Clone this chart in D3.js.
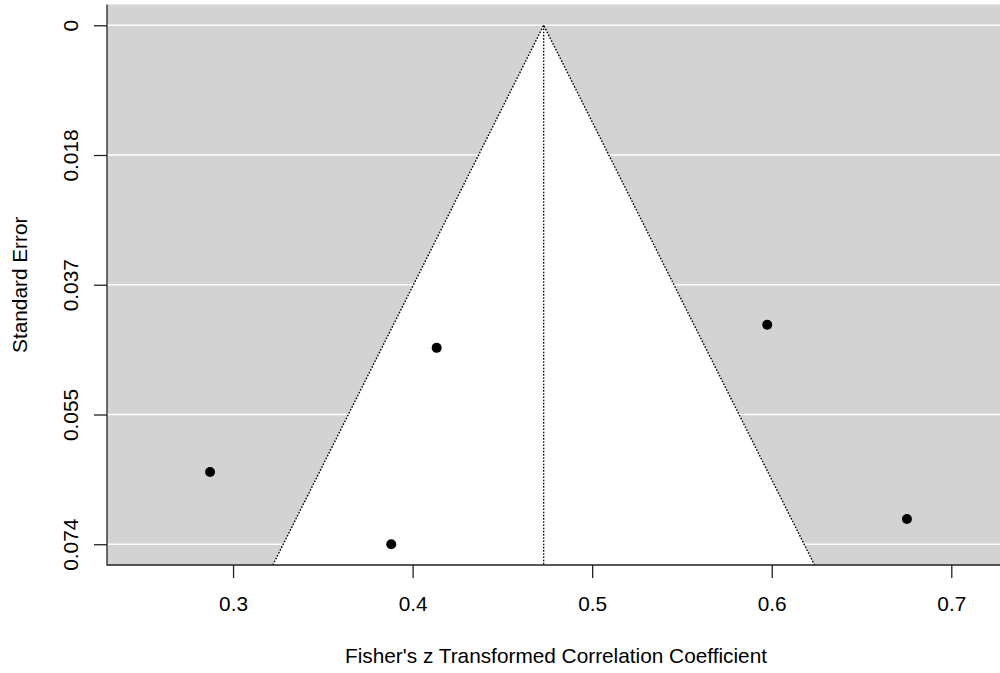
<!DOCTYPE html>
<html>
<head>
<meta charset="utf-8">
<script src="https://cdn.jsdelivr.net/npm/d3@7"></script>
<style>
  body { margin: 0; background: #fff; }
  svg { display: block; font-family: "Liberation Sans", Arial, sans-serif; }
</style>
</head>
<body>
<svg id="chart" width="1000" height="673"></svg>
<script>
// study estimates (Fisher's z) and their standard errors
const yi = [0.2872, 0.3881, 0.4134, 0.5975, 0.6753];
const sei = [0.0637, 0.0740, 0.0460, 0.0427, 0.0704];
const estimate = 0.473;
const xTicks = [0.3, 0.4, 0.5, 0.6, 0.7];
const yTicks = [0, 0.0185, 0.037, 0.0555, 0.074];
const yTickLabels = ['0', '0.018', '0.037', '0.055', '0.074'];

const svg = d3.select('#chart');
const plotLeft = 107;
const plotRight = 1010;
const plotTop = 4.5;
const plotBottom = 565;
const fontSize = 20.8;

const maxSe = d3.max(sei);
const x = d3.scaleLinear().domain([0.2298, 0.7327]).range([plotLeft, plotRight]);
const y = d3.scaleLinear().domain([-0.04 * maxSe, 1.04 * maxSe]).range([plotTop, plotBottom]);
const seBottom = y.domain()[1];

// grey background
svg.append('rect')
  .attr('x', plotLeft).attr('y', plotTop)
  .attr('width', plotRight - plotLeft).attr('height', plotBottom - plotTop)
  .attr('fill', '#d3d3d3');

// white reference lines
svg.selectAll('.hline')
  .data(yTicks)
  .enter()
  .append('line')
  .attr('x1', plotLeft).attr('x2', plotRight)
  .attr('y1', d => y(d)).attr('y2', d => y(d))
  .attr('stroke', '#fff')
  .attr('stroke-width', 1.4);

// funnel
const funnel = [
  [estimate - 1.96 * seBottom, seBottom],
  [estimate, 0],
  [estimate + 1.96 * seBottom, seBottom],
];
const funnelLine = d3.line().x(d => x(d[0])).y(d => y(d[1]));

svg.append('path')
  .attr('d', funnelLine(funnel) + 'Z')
  .attr('fill', '#fff');

svg.append('path')
  .attr('d', funnelLine(funnel))
  .attr('fill', 'none')
  .attr('stroke', '#000')
  .attr('stroke-width', 1.4)
  .attr('stroke-dasharray', '1.6,1.6');

svg.append('line')
  .attr('x1', x(estimate)).attr('x2', x(estimate))
  .attr('y1', y(0)).attr('y2', y(seBottom))
  .attr('stroke', '#000')
  .attr('stroke-width', 1.3)
  .attr('stroke-dasharray', '1.6,1.6');

// points
svg.selectAll('.pt')
  .data(yi)
  .enter()
  .append('circle')
  .attr('cx', d => x(d))
  .attr('cy', (d, i) => y(sei[i]))
  .attr('r', 5)
  .attr('fill', '#000');

// axes
const xAxis = svg.append('g')
  .attr('transform', `translate(0,${plotBottom})`)
  .call(d3.axisBottom(x).tickValues(xTicks).tickSize(13).tickSizeOuter(0).tickPadding(18)
    .tickFormat(d3.format('.1f')));
xAxis.select('.domain').remove();
xAxis.selectAll('line').attr('stroke', '#222').attr('stroke-width', 1.3);
xAxis.selectAll('text')
  .attr('font-size', fontSize).attr('font-family', '"Liberation Sans", Arial, sans-serif')
  .attr('fill', '#000');

const yAxis = svg.append('g')
  .attr('transform', `translate(${plotLeft},0)`)
  .call(d3.axisLeft(y).tickValues(yTicks).tickSize(13).tickSizeOuter(0)
    .tickFormat((d, i) => yTickLabels[i]));
yAxis.select('.domain').remove();
yAxis.selectAll('line').attr('stroke', '#222').attr('stroke-width', 1.3);
yAxis.selectAll('text')
  .attr('font-size', fontSize).attr('font-family', '"Liberation Sans", Arial, sans-serif')
  .attr('fill', '#000')
  .attr('text-anchor', 'middle')
  .attr('dy', 0)
  .attr('x', 0)
  .attr('transform', `translate(${78 - plotLeft},0) rotate(-90)`);

// L-shaped box
svg.append('path')
  .attr('d', `M${plotLeft},${plotTop}V${plotBottom}H${plotRight}`)
  .attr('fill', 'none')
  .attr('stroke', '#222')
  .attr('stroke-width', 1.3);

// axis titles
svg.append('text')
  .attr('x', 556)
  .attr('y', 663)
  .attr('text-anchor', 'middle')
  .attr('font-size', fontSize)
  .text("Fisher's z Transformed Correlation Coefficient");

svg.append('text')
  .attr('transform', `translate(27,${(plotTop + plotBottom) / 2}) rotate(-90)`)
  .attr('text-anchor', 'middle')
  .attr('font-size', fontSize)
  .text('Standard Error');
</script>
</body>
</html>
